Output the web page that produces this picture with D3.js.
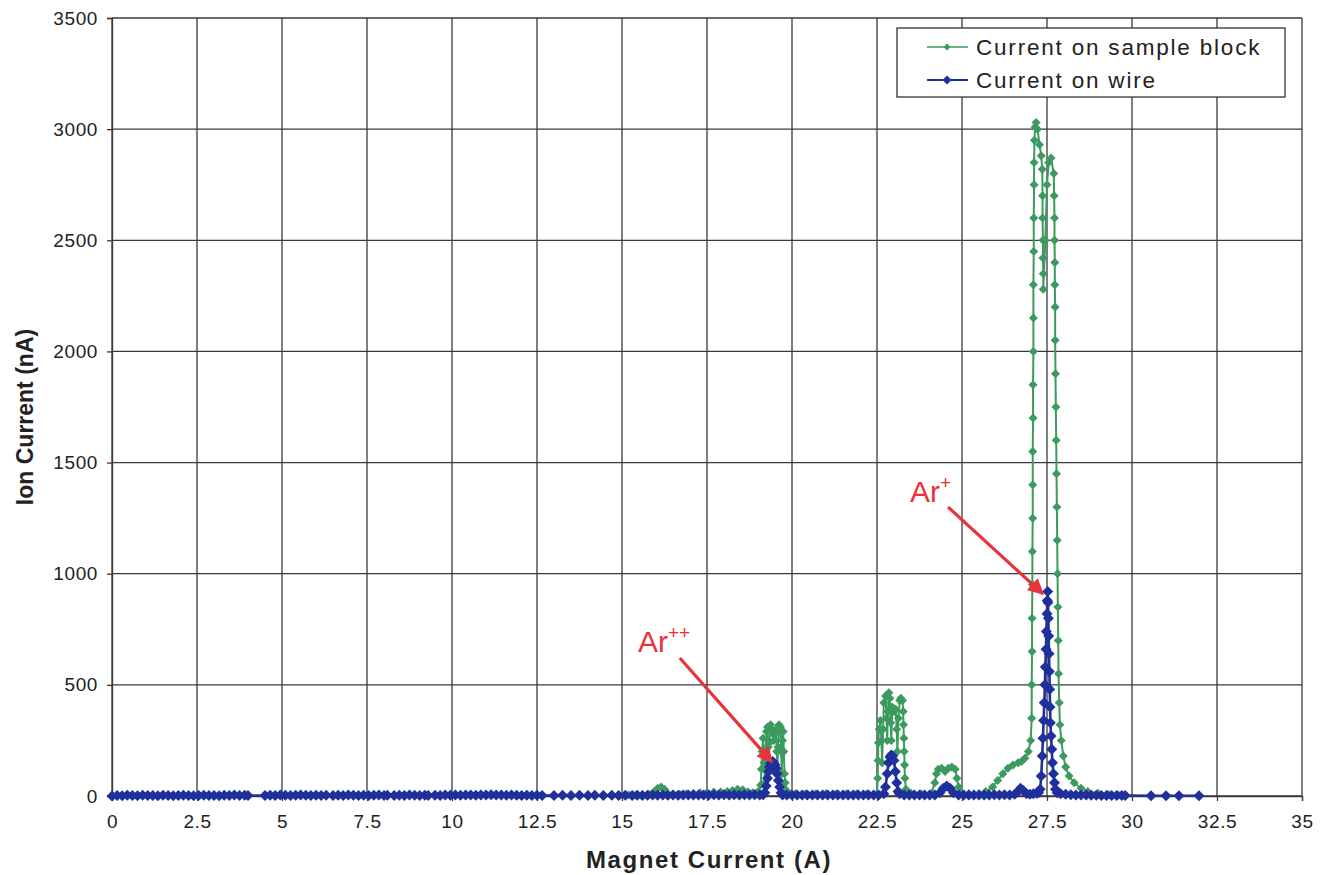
<!DOCTYPE html>
<html>
<head>
<meta charset="utf-8">
<script src="https://cdn.jsdelivr.net/npm/d3@7"></script>
<style>
  body { margin: 0; background: #fff; }
  svg { display: block; font-family: "Liberation Sans", Arial, sans-serif; }
</style>
</head>
<body>
<svg width="1327" height="875"></svg>
<script>
// x ticks / y ticks
var xTicks = [0, 2.5, 5, 7.5, 10, 12.5, 15, 17.5, 20, 22.5, 25, 27.5, 30, 32.5, 35];
var yTicks = [0, 500, 1000, 1500, 2000, 2500, 3000, 3500];

var seriesNames = ["Current on sample block", "Current on wire"];

// Current on sample block [A, nA] (in scan order)
var blockData = [
  [15.0,4],[15.2,5],[15.4,5],[15.6,6],[15.8,8],[15.95,20],[16.05,35],[16.15,40],[16.25,30],[16.35,10],
  [16.5,8],[16.7,8],[16.9,10],[17.1,12],[17.3,15],[17.5,16],[17.7,18],[17.9,18],[18.1,20],[18.25,25],
  [18.4,30],[18.55,28],[18.7,18],[18.85,15],[19.0,20],
  [19.08,50],[19.1,120],[19.12,200],[19.15,260],[19.18,150],[19.2,60],[19.22,200],[19.25,290],[19.28,310],
  [19.3,220],[19.32,120],[19.34,240],[19.37,320],[19.4,300],[19.44,280],[19.46,250],[19.5,280],[19.53,300],
  [19.55,200],[19.57,120],[19.59,220],[19.62,320],[19.66,310],[19.68,200],[19.7,100],[19.72,250],[19.74,290],
  [19.76,200],[19.78,100],[19.8,60],[19.84,25],
  [19.9,12],[20.1,10],[20.4,10],[20.7,10],[21.0,10],[21.3,10],[21.6,10],[21.9,10],[22.2,10],[22.5,10],
  [22.52,80],[22.53,160],[22.54,240],[22.56,300],[22.6,340],[22.63,250],[22.65,150],[22.68,300],[22.7,420],
  [22.75,450],[22.78,350],[22.8,250],[22.82,380],[22.85,465],[22.88,440],[22.9,330],[22.92,250],[22.95,400],
  [23.0,380],[23.05,390],[23.08,300],[23.1,200],[23.13,350],[23.17,430],[23.2,440],[23.25,430],
  [23.27,380],[23.28,320],[23.29,260],[23.3,200],[23.31,140],[23.32,80],
  [23.35,30],[23.5,12],[23.8,10],[24.1,12],[24.2,60],[24.25,100],[24.3,120],[24.4,125],[24.5,110],[24.6,125],
  [24.7,130],[24.8,120],[24.85,80],[24.9,40],[24.95,15],[25.2,10],[25.5,10],[25.7,20],[25.9,40],[26.05,70],
  [26.2,100],[26.35,125],[26.5,140],[26.65,150],[26.75,155],[26.85,170],[26.95,200],[27.02,250],[27.05,350],
  [27.05,500],[27.06,650],[27.06,800],[27.07,950],[27.07,1100],[27.08,1250],[27.08,1400],[27.08,1550],
  [27.09,1700],[27.09,1850],[27.1,2000],[27.1,2150],[27.1,2300],[27.11,2450],[27.11,2600],[27.12,2750],
  [27.12,2850],[27.13,2950],[27.15,3010],[27.18,3030],[27.22,3000],[27.28,2930],[27.33,2880],[27.36,2820],
  [27.37,2700],[27.37,2600],[27.38,2500],[27.38,2420],[27.39,2350],[27.39,2280],[27.45,2500],[27.5,2750],
  [27.55,2850],[27.62,2870],[27.7,2800],[27.71,2700],[27.72,2600],[27.72,2500],[27.73,2400],[27.73,2300],
  [27.74,2200],[27.74,2050],[27.75,1900],[27.76,1750],[27.77,1600],[27.78,1450],[27.79,1300],[27.8,1150],
  [27.81,1000],[27.82,850],[27.83,700],[27.84,550],[27.86,420],[27.88,320],[27.92,250],[27.98,180],
  [28.05,130],[28.15,90],[28.3,60],[28.5,35],[28.7,20],[29.0,12],[29.3,8],[29.6,5]
];

// Current on wire [A, nA]
var wireData = [
  [0,0],[0.15,2],[0.3,1],[0.45,3],[0.6,2],[0.75,1],[0.9,3],[1.05,2],[1.2,2],[1.35,1],[1.5,3],[1.65,2],
  [1.8,1],[1.95,2],[2.1,3],[2.25,2],[2.4,1],[2.55,2],[2.7,3],[2.85,2],[3.0,2],[3.15,1],[3.3,3],[3.45,2],
  [3.6,4],[3.75,2],[3.9,3],[4.0,2],
  [4.5,2],[4.65,3],[4.8,2],[4.95,4],[5.1,3],[5.25,2],[5.4,3],[5.55,4],[5.7,3],[5.85,2],[6.0,3],[6.15,2],[6.3,3],
  [6.5,2],[6.65,3],[6.8,2],[6.95,4],[7.1,3],[7.25,2],[7.4,3],[7.55,2],[7.7,3],[7.85,4],[8.0,2],[8.1,3],
  [8.3,2],[8.45,3],[8.6,2],[8.75,4],[8.9,3],[9.05,2],[9.2,3],[9.3,2],
  [9.5,3],[9.65,2],[9.8,4],[9.95,3],[10.1,4],[10.25,3],[10.4,5],[10.55,4],[10.7,3],[10.85,5],[11.0,4],
  [11.15,6],[11.3,5],[11.45,4],[11.6,3],[11.75,4],[11.9,3],[12.05,2],[12.2,3],[12.35,2],[12.5,3],[12.65,2],
  [13.0,2],[13.25,3],[13.5,2],[13.75,3],[14.0,2],[14.2,3],[14.45,2],[14.7,3],[14.9,2],[15.1,3],
  [15.3,2],[15.45,3],[15.6,2],[15.75,3],[15.9,4],[16.05,3],[16.2,4],[16.35,3],[16.5,4],[16.65,3],[16.8,4],
  [16.95,5],[17.1,4],[17.25,5],[17.4,4],[17.55,5],[17.7,6],[17.85,5],[18.0,6],[18.15,5],[18.3,6],[18.45,5],
  [18.6,6],[18.75,5],[18.9,6],[19.05,5],[19.15,6],
  [19.2,15],[19.24,45],[19.28,80],[19.31,110],[19.34,130],[19.37,145],[19.4,152],[19.43,155],[19.46,150],
  [19.5,140],[19.53,125],[19.56,100],[19.6,70],[19.64,40],[19.68,15],[19.72,5],
  [19.85,4],[20.0,5],[20.15,4],[20.3,5],[20.45,4],[20.6,5],[20.75,4],[20.9,5],[21.05,4],[21.2,5],[21.35,4],
  [21.5,5],[21.65,4],[21.8,5],[21.95,4],[22.1,5],[22.25,4],[22.4,5],[22.55,4],
  [22.7,10],[22.75,40],[22.8,100],[22.84,150],[22.88,175],[22.92,185],[22.96,180],[23.0,160],[23.04,110],
  [23.08,60],[23.12,20],[23.16,10],
  [23.3,5],[23.45,4],[23.6,5],[23.75,4],[23.9,5],[24.05,4],[24.2,5],
  [24.35,15],[24.45,35],[24.55,45],[24.65,35],[24.75,15],
  [24.9,5],[25.05,4],[25.2,5],[25.35,4],[25.5,5],[25.65,4],[25.8,5],[25.95,6],[26.1,5],[26.25,6],[26.4,5],
  [26.55,8],[26.65,20],[26.72,35],[26.8,25],[26.9,10],[27.0,8],[27.1,10],[27.2,12],[27.25,15],
  [27.3,30],[27.33,90],[27.36,180],[27.38,260],[27.4,340],[27.42,420],[27.44,500],[27.45,580],[27.47,660],
  [27.48,740],[27.5,820],[27.51,880],[27.52,920],[27.53,870],[27.54,800],[27.55,720],[27.56,640],[27.57,560],
  [27.58,480],[27.59,400],[27.6,330],[27.62,270],[27.64,210],[27.66,150],[27.69,100],[27.72,60],[27.75,30],
  [27.8,15],
  [27.9,10],[28.05,8],[28.2,6],[28.35,5],[28.5,4],[28.65,4],[28.8,3],[28.95,3],[29.1,2],[29.25,2],[29.4,2],
  [29.55,2],[29.7,2],[29.8,2],
  [30.56,1],[31.0,1],[31.38,1],[31.97,1]
];

// annotations: label anchor and arrow, in data units
var annotations = [
  {main: "Ar", sup: "++", at: [15.47, 648], from: [16.7, 621], to: [19.41, 153]},
  {main: "Ar", sup: "+", at: [23.47, 1323], from: [24.59, 1300], to: [27.38, 909]}
];

var colors = ["#3d9a5f", "#1f2f9c"];
var markerR = [4.5, 5.5];

var svg = d3.select("svg");
var margin = {top: 18, right: 25, bottom: 79, left: 112};
var width = 1327 - margin.left - margin.right;
var height = 875 - margin.top - margin.bottom;

var g = svg.append("g").attr("transform", "translate(" + margin.left + "," + margin.top + ")");

var x = d3.scaleLinear().domain([0, 35]).range([0, width]);
var y = d3.scaleLinear().domain([0, 3500]).range([height, 0]);

// grid
g.append("g")
  .selectAll("line.vg").data(xTicks).enter().append("line")
  .attr("x1", function(d) { return x(d); }).attr("x2", function(d) { return x(d); })
  .attr("y1", 0).attr("y2", height)
  .attr("stroke", "#3a3a3a").attr("stroke-width", 1.3);
g.append("g")
  .selectAll("line.hg").data(yTicks).enter().append("line")
  .attr("y1", function(d) { return y(d); }).attr("y2", function(d) { return y(d); })
  .attr("x1", 0).attr("x2", width)
  .attr("stroke", "#3a3a3a").attr("stroke-width", 1.3);

// axes
var xAxis = g.append("g")
  .attr("transform", "translate(0," + height + ")")
  .call(d3.axisBottom(x).tickValues(xTicks).tickSize(5).tickPadding(14)
    .tickFormat(function(d) { return d; }));
var yAxis = g.append("g")
  .call(d3.axisLeft(y).tickValues(yTicks).tickSize(5).tickPadding(9)
    .tickFormat(function(d) { return d; }));

[xAxis, yAxis].forEach(function(a) {
  a.select(".domain").attr("stroke", "#3a3a3a").attr("stroke-width", 1.3);
  a.selectAll(".tick line").attr("stroke", "#3a3a3a").attr("stroke-width", 1.3);
  a.selectAll("text").attr("font-size", "19px").attr("fill", "#222")
    .attr("letter-spacing", "0.6px")
    .attr("font-family", "Liberation Sans, Arial, sans-serif");
});

// series
var line = d3.line()
  .x(function(d) { return x(d[0]); })
  .y(function(d) { return y(d[1]); });

var diamond = function(r) { return "M0," + (-r) + "L" + r + ",0L0," + r + "L" + (-r) + ",0Z"; };

[blockData, wireData].forEach(function(data, i) {
  var sg = g.append("g");
  sg.append("path")
    .datum(data)
    .attr("fill", "none")
    .attr("stroke", colors[i])
    .attr("stroke-width", i === 0 ? 2 : 2.6)
    .attr("d", line);
  sg.selectAll("path.m").data(data).enter().append("path")
    .attr("class", "m")
    .attr("transform", function(d) { return "translate(" + x(d[0]) + "," + y(d[1]) + ")"; })
    .attr("d", diamond(markerR[i]))
    .attr("fill", colors[i]);
});

// axis titles
svg.append("text")
  .attr("x", 709).attr("y", 868)
  .attr("text-anchor", "middle")
  .attr("font-size", "24px").attr("font-weight", "bold")
  .attr("letter-spacing", "1.6px")
  .attr("fill", "#222")
  .text("Magnet Current (A)");
svg.append("text")
  .attr("transform", "translate(33," + (margin.top + height / 2 + 10) + ") rotate(-90)")
  .attr("text-anchor", "middle")
  .attr("font-size", "23px").attr("font-weight", "bold")
  .attr("fill", "#222")
  .text("Ion Current (nA)");

// legend
var legend = g.append("g").attr("transform", "translate(" + (897 - margin.left) + "," + (28 - margin.top) + ")");
legend.append("rect")
  .attr("width", 388).attr("height", 69)
  .attr("fill", "#fff").attr("stroke", "#333").attr("stroke-width", 1.3);
seriesNames.forEach(function(name, i) {
  var ly = 19 + i * 33;
  legend.append("line")
    .attr("x1", 30).attr("x2", 71).attr("y1", ly).attr("y2", ly)
    .attr("stroke", colors[i]).attr("stroke-width", i === 0 ? 1.4 : 2.2);
  legend.append("path")
    .attr("transform", "translate(50," + ly + ")")
    .attr("d", diamond(markerR[i] - 1))
    .attr("fill", colors[i]);
  legend.append("text")
    .attr("x", 79).attr("y", ly + 8)
    .attr("font-size", "22.5px").attr("letter-spacing", "1.8px")
    .attr("fill", "#222")
    .text(name);
});

// annotations
var red = "#e8323c";
svg.append("defs").append("marker")
  .attr("id", "ah").attr("viewBox", "0 0 10 10")
  .attr("refX", 9).attr("refY", 5)
  .attr("markerWidth", 7).attr("markerHeight", 5)
  .attr("markerUnits", "strokeWidth")
  .attr("orient", "auto")
  .append("path").attr("d", "M0,0L10,5L0,10Z").attr("fill", red);

annotations.forEach(function(a) {
  var t = g.append("text")
    .attr("x", x(a.at[0])).attr("y", y(a.at[1]))
    .attr("fill", red).attr("font-size", "30px");
  t.append("tspan").text(a.main);
  t.append("tspan").attr("font-size", "19px").attr("dy", "-13").text(a.sup);
  g.append("line")
    .attr("x1", x(a.from[0])).attr("y1", y(a.from[1]))
    .attr("x2", x(a.to[0])).attr("y2", y(a.to[1]))
    .attr("stroke", red).attr("stroke-width", 3.2)
    .attr("marker-end", "url(#ah)");
});
</script>
</body>
</html>
